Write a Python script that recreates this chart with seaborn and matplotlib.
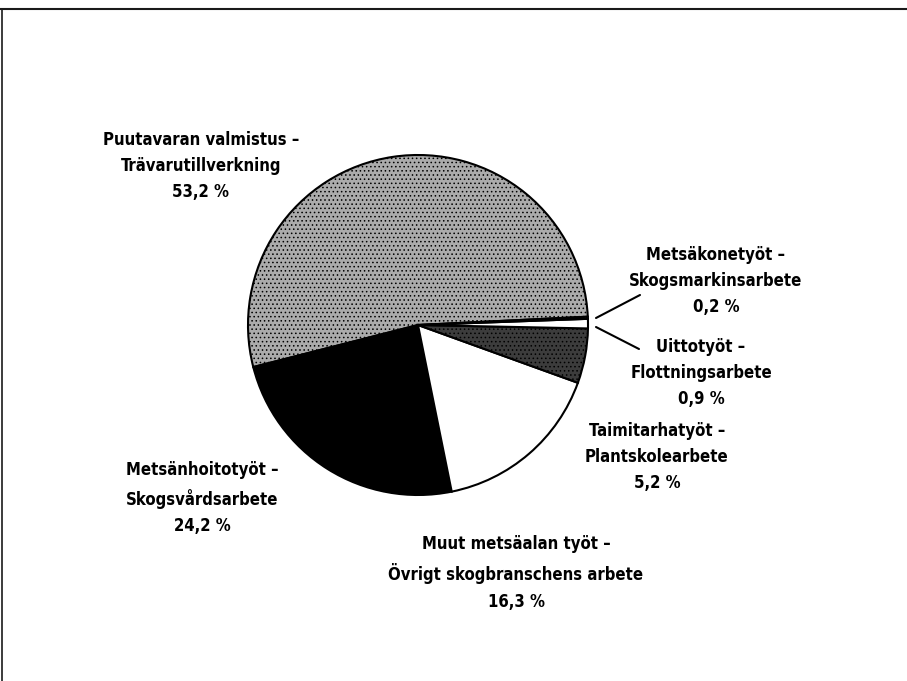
import matplotlib
matplotlib.use("Agg")
import matplotlib.pyplot as plt
import seaborn as sns
from matplotlib.lines import Line2D

# osuudet (%) piirakan järjestyksessä, vastapäivään
categories = [
    "Puutavaran valmistus –\nTrävarutillverkning",
    "Metsänhoitotyöt –\nSkogsvårdsarbete",
    "Muut metsäalan työt –\nÖvrigt skogbranschens arbete",
    "Taimitarhatyöt –\nPlantskolearbete",
    "Uittotyöt –\nFlottningsarbete",
    "Metsäkonetyöt –\nSkogsmarkinsarbete",
]
shares = [53.2, 24.2, 16.3, 5.2, 0.9, 0.2]
share_labels = ["53,2 %", "24,2 %", "16,3 %", "5,2 %", "0,9 %", "0,2 %"]

fills = ["#ababab", "#000000", "#ffffff", "#3c3c3c", "#ffffff", "#ffffff"]
hatches = ["....", None, None, "....", None, None]

# tekstien paikat kuvapikseleinä (x, y ylhäältä), keskimmäisen rivin keskikohta
label_pos = [(201, 166), (202, 498), (516, 573), (657, 457), (701, 373), (716, 281)]

sns.set_theme(style="white")
plt.rcParams["font.family"] = ["DejaVu Sans"]
plt.rcParams["hatch.linewidth"] = 0.6

W, H = 907, 681
fig = plt.figure(figsize=(W / 100, H / 100), dpi=100)
ax = fig.add_axes([0, 0, 1, 1])

wedges, _ = ax.pie(
    shares,
    colors=fills,
    startangle=2.8,
    counterclock=True,
    center=(418, H - 325),
    radius=170,
    wedgeprops=dict(edgecolor="black", linewidth=1.5),
    frame=True,
)
for w, h in zip(wedges, hatches):
    if h:
        w.set_hatch(h)
ax.set_xlim(0, W)
ax.set_ylim(0, H)
ax.set_aspect("equal")
ax.axis("off")

for cat, pct, (x, y) in zip(categories, share_labels, label_pos):
    ax.text(x, H - y, cat + "\n" + pct, ha="center", va="center",
            multialignment="center", fontsize=12, fontweight="bold",
            fontstretch="condensed", linespacing=1.6, color="black")

# viivat pienille sektoreille
ax.plot([596, 640], [H - 318, H - 295], color="black", lw=1.5)
ax.plot([596, 639], [H - 327, H - 349], color="black", lw=1.5)

# kehys: ylä- ja vasen reuna
fig.add_artist(Line2D([0, 1], [1 - 9 / H, 1 - 9 / H], color="#1a1a1a", lw=1.5))
fig.add_artist(Line2D([1.5 / W, 1.5 / W], [0, 1 - 9 / H], color="#1a1a1a", lw=1.2))

fig.savefig("out.png", dpi=100)
